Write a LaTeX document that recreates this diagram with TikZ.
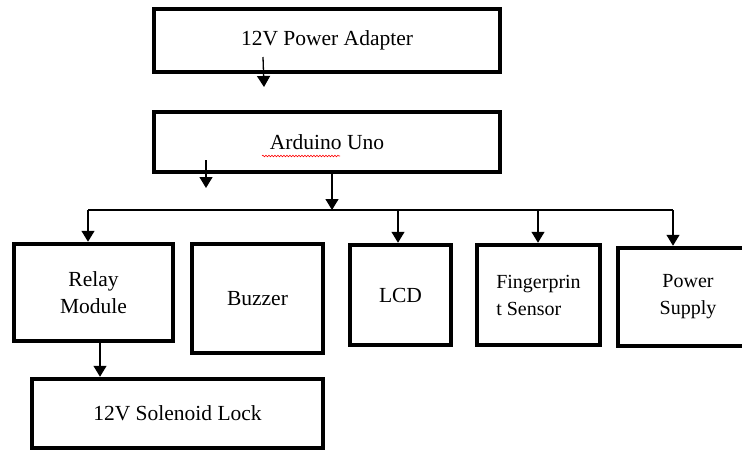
\documentclass[tikz,border=0pt]{standalone}
\usepackage{fontspec}
\setmainfont{Liberation Serif}
\newfontfamily\tnr{Liberation Serif}
\usetikzlibrary{arrows.meta,decorations.pathmorphing}
\begin{document}
\begin{tikzpicture}[x=1pt,y=-1pt,
  box/.style={draw, line width=4.5pt, rectangle, inner sep=0pt, align=center, font=\tnr\fontsize{21.5}{27}\selectfont},
  conn/.style={line width=1.3pt, -{Triangle[width=13pt,length=11pt]}},
  bus/.style={line width=1.1pt},
  squiggle/.style={red, line width=0.6pt, decorate, decoration={snake, amplitude=0.8pt, segment length=3pt}}
]
\useasboundingbox (0,0) rectangle (742,451);
% boxes
\node[box, minimum width=346pt, minimum height=63pt] (adapter) at (327,40.5) {12V Power Adapter};
\node[box, minimum width=346pt, minimum height=60pt] (arduino) at (327,142) {Arduino Uno};
\node[box, minimum width=159pt, minimum height=97pt] (relay) at (93.5,292.5) {Relay\\Module};
\node[box, minimum width=131pt, minimum height=109pt] (buzzer) at (257.5,298.5) {Buzzer};
\node[box, minimum width=101pt, minimum height=100pt] (lcd) at (400.5,295) {LCD};
\node[box, minimum width=123pt, minimum height=100pt, align=left, font=\tnr\fontsize{20}{27}\selectfont] (finger) at (538.5,295) {Fingerprin\\t Sensor};
\node[box, minimum width=140pt, minimum height=98pt, font=\tnr\fontsize{20}{27}\selectfont] (power) at (688,297) {Power\\Supply};
\node[box, minimum width=291pt, minimum height=69pt] (solenoid) at (177.5,413.5) {12V Solenoid Lock};
% spell-check squiggle
\coordinate (sqA) at (262,156);
\coordinate (sqB) at (340,156);
\draw[squiggle] (sqA) -- (sqB);
% connectors
\coordinate (a1) at (263,57);
\coordinate (a2) at (264,87);
\draw[conn] (a1) -- (a2);
\coordinate (u1) at (206,160);
\coordinate (u2) at (206,188);
\draw[conn] (u1) -- (u2);
\coordinate (busM) at (332,210);
\draw[conn] (arduino.south -| busM) -- (busM);
\coordinate (busL) at (88,210);
\coordinate (busR) at (673,210);
\coordinate (dLcd) at (398,210);
\coordinate (dFin) at (538,210);
\draw[bus] (busL) -- (busR);
\draw[conn] (busL) -- (relay.north -| busL);
\draw[conn] (dLcd) -- (lcd.north -| dLcd);
\draw[conn] (dFin) -- (finger.north -| dFin);
\draw[conn] (busR) -- (power.north -| busR);
\coordinate (rs) at (100,0);
\draw[conn] (relay.south -| rs) -- (solenoid.north -| rs);
\end{tikzpicture}
\end{document}
